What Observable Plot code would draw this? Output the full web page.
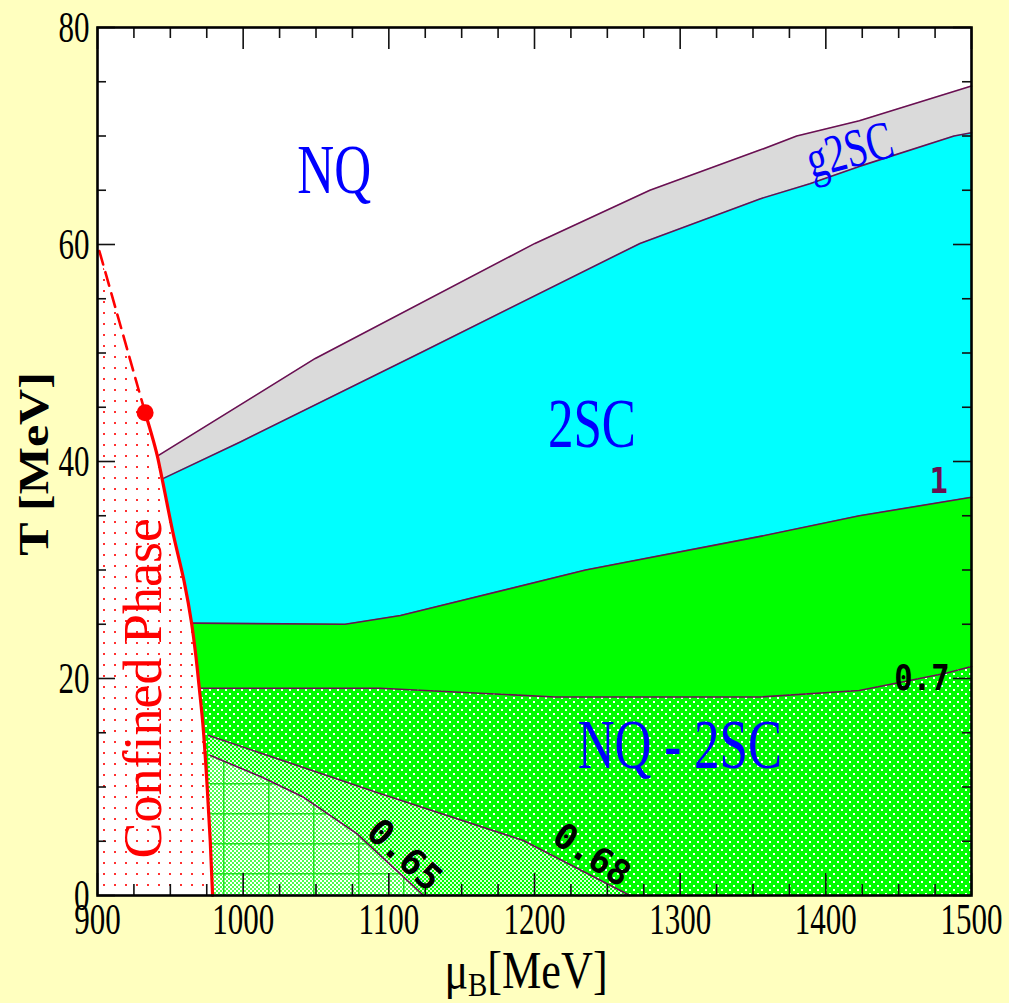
<!DOCTYPE html>
<html><head><meta charset="utf-8">
<script src="https://cdn.jsdelivr.net/npm/d3@7"></script>
<script src="https://cdn.jsdelivr.net/npm/@observablehq/plot@0.6"></script>
<style>
html,body{margin:0;padding:0;background:#ffffbf;}
#chart{width:1009px;height:1003px;}
svg{display:block}
</style></head><body><div id="chart"></div>
<script>
// ---- ticks ----
const xTickMajor = [900, 1000, 1100, 1200, 1300, 1400, 1500];
const xTickMinor = [925, 950, 975, 1025, 1050, 1075, 1125, 1150, 1175, 1225, 1250, 1275, 1325, 1350, 1375, 1425, 1450, 1475];
const yTickMajor = [0, 20, 40, 60, 80];
const yTickMinor = [5, 10, 15, 25, 30, 35, 45, 50, 55, 65, 70, 75];

// ---- phase boundaries (mu_B in MeV, T in MeV) ----
const g2scTopMu = [941.1, 1049.5, 1200.3, 1279.2, 1354.7, 1380, 1423, 1500];
const g2scTopT  = [40.5, 49.5, 60.1, 65.0, 68.7, 70.0, 71.4, 74.6];

const cyanTopMu = [944.6, 998, 1121.5, 1272.4, 1354.7, 1389, 1423, 1488, 1500];
const cyanTopT  = [38.4, 41.8, 50.0, 60.1, 64.2, 65.6, 67.2, 70.0, 70.3];

const line1Mu = [965.0, 1070, 1108, 1235, 1355, 1423, 1500];
const line1T  = [25.1, 25.0, 25.8, 30.0, 33.1, 35.0, 36.7];

const line07Mu = [969.5, 1094, 1214, 1355, 1423, 1461, 1483, 1500];
const line07T  = [19.1, 19.1, 18.3, 18.3, 18.9, 19.9, 20.5, 21.1];

const line068Mu = [976.3, 1091.8, 1192.3, 1265.5];
const line068T  = [14.75, 9.5, 5.07, 0];

const line065Mu = [977.5, 1013, 1041.5, 1078, 1123.8];
const line065T  = [12.9, 10.9, 9.05, 5.7, 0];

const redSolidT  = [0, 5, 10, 16, 19.2, 22, 25.1, 29, 33, 38.3, 40.5, 44.5];
const redSolidMu = [979.0, 977.4, 975.3, 972.2, 969.8, 967.6, 964.6, 959.4, 952.5, 944.5, 941.1, 932.7];
const redDashT  = [44.5, 60];
const redDashMu = [932.7, 900];
const critMu = [932.7];
const critT = [44.5];

// ---- labels ----
const bigLabelText = ["NQ", "2SC", "NQ - 2SC"];
const bigLabelMu = [1062.5, 1239.4, 1299.8];
const bigLabelT = [66.8, 43.4, 13.8];

const pts = (mu, T) => mu.map((m, i) => ({mu: m, T: T[i]}));
const g2scTop = pts(g2scTopMu, g2scTopT);
const cyanTop = pts(cyanTopMu, cyanTopT);
const line1 = pts(line1Mu, line1T);
const line07 = pts(line07Mu, line07T);
const line068 = pts(line068Mu, line068T);
const line065 = pts(line065Mu, line065T);
const redSolid = pts(redSolidMu, redSolidT);
const redDash = pts(redDashMu, redDashT);
const confined = redSolid.concat(redDash.slice(1));
const crit = pts(critMu, critT);
const bigLabels = bigLabelText.map((t, i) => ({text: t, mu: bigLabelMu[i], T: bigLabelT[i]}));

const W = 1009, H = 1003, mL = 97, mR = 38, mT = 27, mB = 108;
const plotW = W - mL - mR, plotH = H - mT - mB;
const purple = "#6a0f52";
const serif = "Liberation Serif";
const mono = "DejaVu Sans Mono";

const svg = Plot.plot({
  width: W, height: H,
  marginLeft: mL, marginRight: mR, marginTop: mT, marginBottom: mB,
  x: {domain: [900, 1500]},
  y: {domain: [0, 80]},
  style: {background: "transparent", fontFamily: serif, overflow: "visible"},
  marks: [
    Plot.frame({fill: "white", stroke: "none"}),
    Plot.areaY(g2scTop, {x: "mu", y: "T", fill: "#dadada"}),
    Plot.areaY(cyanTop, {x: "mu", y: "T", fill: "#00ffff"}),
    Plot.areaY(line1, {x: "mu", y: "T", fill: "#00ff00"}),
    Plot.areaY(line07, {x: "mu", y: "T", fill: "url(#pNQ2SC)"}),
    Plot.areaY(line068, {x: "mu", y: "T", fill: "url(#p068)"}),
    Plot.areaY(line065, {x: "mu", y: "T", fill: "url(#p065)"}),
    Plot.areaY(line065, {x: "mu", y: "T", fill: "url(#pGrid)"}),
    Plot.areaX(confined, {y: "T", x1: 900, x2: "mu", fill: "url(#pConf)", curve: "monotone-y"}),
    Plot.line(g2scTop, {x: "mu", y: "T", stroke: purple, strokeWidth: 1.6}),
    Plot.line(cyanTop, {x: "mu", y: "T", stroke: purple, strokeWidth: 1.6}),
    Plot.line(line1, {x: "mu", y: "T", stroke: purple, strokeWidth: 1.6}),
    Plot.line(line07, {x: "mu", y: "T", stroke: purple, strokeWidth: 1.6}),
    Plot.line(line068, {x: "mu", y: "T", stroke: purple, strokeWidth: 1.6}),
    Plot.line(line065, {x: "mu", y: "T", stroke: purple, strokeWidth: 1.6}),
    Plot.line(redSolid, {x: "mu", y: "T", stroke: "#ff0000", strokeWidth: 3.2, curve: "monotone-y"}),
    Plot.line(redDash, {x: "mu", y: "T", stroke: "#ff0000", strokeWidth: 2.6, strokeDasharray: "14,8"}),
    Plot.dot(crit, {x: "mu", y: "T", r: 8.5, fill: "#ff0000"}),
    // ticks (inward, mirrored)
    Plot.ruleX(xTickMajor, {insetTop: plotH - 22, stroke: "#111", strokeWidth: 1.6}),
    Plot.ruleX(xTickMinor, {insetTop: plotH - 11, stroke: "#111", strokeWidth: 1.6}),
    Plot.ruleX(xTickMajor, {insetBottom: plotH - 22, stroke: "#111", strokeWidth: 1.6}),
    Plot.ruleX(xTickMinor, {insetBottom: plotH - 11, stroke: "#111", strokeWidth: 1.6}),
    Plot.ruleY(yTickMajor, {insetRight: plotW - 18, stroke: "#111", strokeWidth: 1.6}),
    Plot.ruleY(yTickMinor, {insetRight: plotW - 9, stroke: "#111", strokeWidth: 1.6}),
    Plot.ruleY(yTickMajor, {insetLeft: plotW - 18, stroke: "#111", strokeWidth: 1.6}),
    Plot.ruleY(yTickMinor, {insetLeft: plotW - 9, stroke: "#111", strokeWidth: 1.6}),
    // labels
    Plot.text(bigLabels, {x: "mu", y: "T", text: "text", fill: "#0000ff", fontSize: 70, fontFamily: serif}),
    Plot.text(["g2SC"], {x: 1416.3, y: 68.7, text: d => d, rotate: -15, fill: "#0000ff", fontSize: 54, fontFamily: serif}),
    Plot.text(["Confined Phase"], {x: 931.5, y: 19.1, text: d => d, rotate: -90, fill: "#ff0000", fontSize: 54, fontFamily: serif}),
    Plot.text(["1"], {x: 1477.4, y: 38.2, text: d => d, fill: purple, fontSize: 36, fontWeight: "bold", fontFamily: mono}),
    Plot.text(["0.7"], {x: 1466, y: 20.0, text: d => d, fill: "black", fontSize: 36, fontWeight: "bold", fontFamily: mono}),
    Plot.text(["0.65"], {x: 1110.5, y: 3.7, text: d => d, rotate: 42.5, fill: "black", fontSize: 36, fontWeight: "bold", fontFamily: mono}),
    Plot.text(["0.68"], {x: 1239.2, y: 3.7, text: d => d, rotate: 33.7, fill: "black", fontSize: 35, fontWeight: "bold", fontFamily: mono}),
    Plot.frame({stroke: "black", strokeWidth: 2.6}),
    Plot.axisX({ticks: xTickMajor, tickSize: 0, tickPadding: 7, fontSize: 45, fontFamily: serif, label: null, tickFormat: d => String(d)}),
    Plot.axisY({ticks: yTickMajor, tickSize: 0, tickPadding: 8, fontSize: 45, fontFamily: serif, label: null, tickFormat: d => String(d)})
  ]
});

document.getElementById("chart").appendChild(svg);
const s = d3.select(svg);

s.insert("defs", ":first-child").html(`
  <pattern id="pConf" width="11" height="11" patternUnits="userSpaceOnUse">
    <rect width="11" height="11" fill="white"/>
    <rect x="4" y="4" width="2" height="2" fill="#ff3030"/>
  </pattern>
  <pattern id="pNQ2SC" width="8" height="8" patternUnits="userSpaceOnUse">
    <rect width="8" height="8" fill="#00ff00"/>
    <rect x="1" y="1" width="2" height="2" fill="white"/>
    <rect x="5" y="5" width="2" height="2" fill="white"/>
  </pattern>
  <pattern id="p068" width="4" height="4" patternUnits="userSpaceOnUse">
    <rect width="4" height="4" fill="#00ff00"/>
    <rect x="0" y="0" width="2" height="2" fill="#d8ffd8"/>
    <rect x="2" y="2" width="2" height="2" fill="#d8ffd8"/>
  </pattern>
  <pattern id="p065" width="4" height="4" patternUnits="userSpaceOnUse">
    <rect width="4" height="4" fill="#4dff4d"/>
    <rect x="0" y="0" width="2" height="2" fill="#ffffff"/>
    <rect x="2" y="2" width="2" height="2" fill="#ffffff"/>
  </pattern>
  <pattern id="pGrid" x="43" y="3" width="45" height="30" patternUnits="userSpaceOnUse">
    <rect x="0" y="0" width="45" height="1.5" fill="#22e022"/>
    <rect x="0" y="0" width="1.5" height="30" fill="#22e022"/>
  </pattern>
`);

// horizontal condensation of texts (as in the reference rendering)
function squeezeSel(sel, sx) {
  sel.each(function () {
    const t = this.getAttribute("transform") || "";
    this.setAttribute("transform", t + ` scale(${sx},1)`);
  });
}
squeezeSel(s.selectAll('g[aria-label="x-axis tick label"] text'), 0.69);
squeezeSel(s.selectAll('g[aria-label="y-axis tick label"] text'), 0.69);
const textGroups = svg.querySelectorAll('g[aria-label="text"]');
const groupSqueeze = [0.73, 0.73, 1, 0.85, 0.85, 1, 1];
textGroups.forEach((g, i) => {
  const sx = groupSqueeze[i];
  if (sx && sx !== 1) squeezeSel(d3.select(g).selectAll("text"), sx);
});

// axis titles
const xt = s.append("text")
  .attr("transform", "translate(526,988) scale(0.85,1)")
  .attr("text-anchor", "middle")
  .attr("font-family", serif)
  .attr("font-size", 52)
  .attr("fill", "black");
xt.append("tspan").text("μ");
xt.append("tspan").attr("font-size", 34).attr("dy", 8).text("B");
xt.append("tspan").attr("dy", -8).text("[MeV]");

s.append("text")
  .attr("transform", "translate(48,464) scale(0.85,1) rotate(-90)")
  .attr("text-anchor", "middle")
  .attr("font-family", serif)
  .attr("font-weight", "bold")
  .attr("font-size", 50)
  .attr("fill", "black")
  .text("T [MeV]");
</script></body></html>
